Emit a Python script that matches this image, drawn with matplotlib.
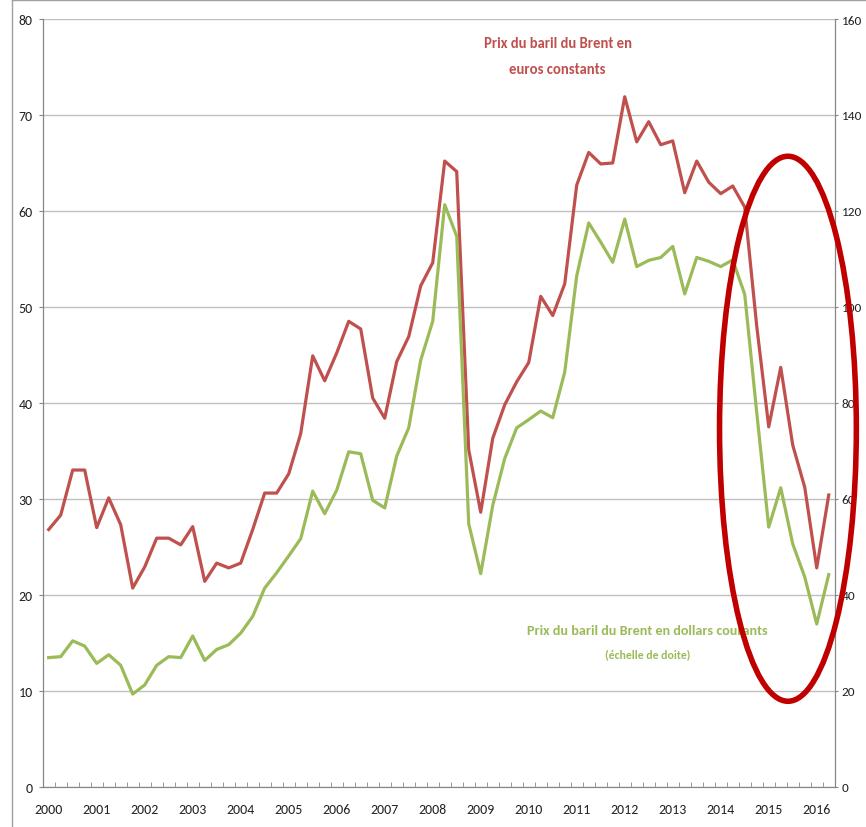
import matplotlib
matplotlib.use("Agg")
import matplotlib.pyplot as plt
from matplotlib.patches import Ellipse
from matplotlib.lines import Line2D
import numpy as np

plt.rcParams['font.family'] = ['Carlito', 'DejaVu Sans']

# quarterly data, 2000Q1 .. 2016Q2
years = list(range(2000, 2017))

# Brent in constant euros (left axis)
brent_eur = [26.8, 28.3, 33.0, 33.0, 27.0, 30.1, 27.3, 20.7,
             22.9, 25.9, 25.9, 25.2, 27.1, 21.4, 23.3, 22.8,
             23.3, 26.8, 30.6, 30.6, 32.6, 36.8, 44.9, 42.3,
             45.2, 48.5, 47.7, 40.5, 38.4, 44.3, 46.9, 52.2,
             54.6, 65.2, 64.1, 35.1, 28.6, 36.3, 39.8, 42.2,
             44.2, 51.1, 49.1, 52.4, 62.7, 66.1, 64.9, 65.0,
             71.9, 67.2, 69.3, 66.9, 67.3, 61.9, 65.2, 63.0,
             61.8, 62.6, 60.4, 48.0, 37.5, 43.7, 35.6, 31.2,
             22.8, 30.4]

# Brent in current dollars (right axis)
brent_usd = [26.9, 27.1, 30.4, 29.3, 25.7, 27.5, 25.3, 19.3,
             21.2, 25.3, 27.1, 26.9, 31.4, 26.3, 28.6, 29.6,
             32.0, 35.5, 41.4, 44.6, 48.1, 51.7, 61.6, 56.9,
             61.8, 69.8, 69.4, 59.7, 58.1, 68.9, 74.8, 88.9,
             97.0, 121.3, 114.7, 54.8, 44.4, 58.6, 68.4, 74.8,
             76.5, 78.3, 76.9, 86.4, 106.5, 117.5, 113.5, 109.3,
             118.3, 108.4, 109.7, 110.3, 112.6, 102.7, 110.3, 109.5,
             108.4, 109.8, 102.6, 78.0, 54.1, 62.3, 50.6, 43.7,
             33.9, 44.2]

red = '#C0504D'
green = '#9BBB59'
axis_gray = '#868686'

fig = plt.figure(figsize=(8.66, 8.28), dpi=100)
ax = fig.add_axes([0.0493, 0.0487, 0.9146, 0.9271])
ax2 = ax.twinx()

x = np.arange(len(brent_eur))
ax.plot(x, brent_eur, color=red, lw=2.3, zorder=3)
ax2.plot(x, brent_usd, color=green, lw=2.3, zorder=3)

ax.set_xlim(-0.5, len(brent_eur) - 0.5)
ax.set_ylim(0, 80)
ax2.set_ylim(0, 160)
ax.set_yticks(range(0, 81, 10))
ax2.set_yticks(range(0, 161, 20))

ax.set_xticks(np.arange(0, len(brent_eur), 4))
ax.set_xticklabels([str(y) for y in years])
ax.set_xticks(np.arange(0.5, len(brent_eur) - 1, 1), minor=True)
ax.tick_params(axis='x', which='major', length=0, pad=12, labelsize=10, colors='#222222')
ax.tick_params(axis='x', which='minor', direction='in', length=3.5, color=axis_gray)
ax.tick_params(axis='y', length=3, color=axis_gray, pad=4, labelsize=10, labelcolor='#222222')
ax2.tick_params(axis='y', length=2, color=axis_gray, pad=3, labelsize=9.5, labelcolor='#222222')

ax.yaxis.grid(True, color='#BFBFBF', lw=1.0)
ax.set_axisbelow(True)
for a in (ax, ax2):
    a.spines['top'].set_visible(False)
    for s in ('left', 'right', 'bottom'):
        a.spines[s].set_color(axis_gray)

ax2.text(42.4, 155, 'Prix du baril du Brent en', color=red, fontsize=10.5,
         fontweight='bold', ha='center', va='center')
ax2.text(42.4, 149.6, 'euros constants', color=red, fontsize=10.5,
         fontweight='bold', ha='center', va='center')
ax2.text(49.9, 32.6, 'Prix du baril du Brent en dollars courants', color=green,
         fontsize=10.2, fontweight='bold', ha='center', va='center')
ax2.text(49.9, 27.8, '(échelle de doite)', color=green, fontsize=8.5,
         fontweight='bold', ha='center', va='center')

ell = Ellipse((61.6, 74.6), width=11.4, height=113.6, fill=False,
              edgecolor='#C00000', lw=4, clip_on=False, zorder=5)
ax2.add_patch(ell)

# outer frame of the chart object
fig.add_artist(Line2D([12/866, 12/866], [0, 1 - 1/828], color='#A0A0A0', lw=1))
fig.add_artist(Line2D([12/866, 1], [1 - 1/828, 1 - 1/828], color='#A0A0A0', lw=1))

fig.savefig('out.png', dpi=100)
